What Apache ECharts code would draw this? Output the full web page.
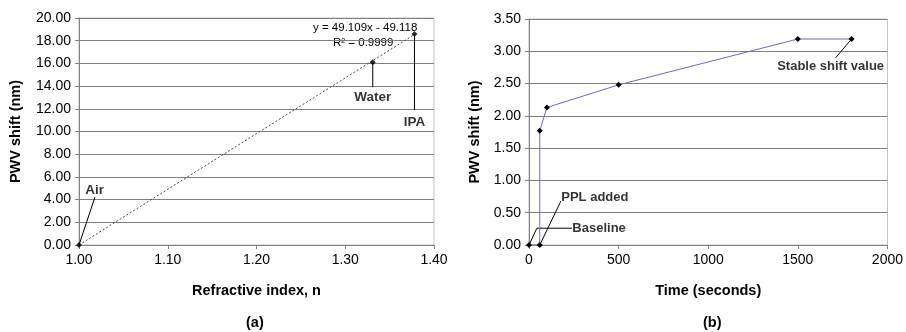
<!DOCTYPE html>
<html><head><meta charset="utf-8">
<script src="https://cdn.jsdelivr.net/npm/echarts@6/dist/echarts.min.js"></script>
<style>html,body{margin:0;padding:0;background:#fff}#c{width:906px;height:332px}</style>
</head><body><div id="c"></div>
<script>
// Panel (a): refractive index vs PWV shift
const riPoints = [[1.000, 0.00], [1.331, 16.10], [1.378, 18.59]];
const riTrend = [[1.000, 0.00], [1.378, 18.55]];
const riYTicks = {min: 0, max: 20, interval: 2};
const riXTicks = {min: 1.0, max: 1.4, interval: 0.1};
const riNotes = [
  {text: 'Air', line: [[1.000, 0.00], [1.018, 4.23]], label: [1.0175, 4.85]},
  {text: 'Water', line: [[1.331, 16.10], [1.331, 13.9]], label: [1.331, 13.0]},
  {text: 'IPA', line: [[1.378, 18.59], [1.378, 11.9]], label: [1.378, 10.8]}
];
const eqText = ['y = 49.109x - 49.118', 'R² = 0.9999'];

// Panel (b): time vs PWV shift
const timeSec = [0, 60, 60, 100, 500, 1500, 1800];
const shiftNm = [0.00, 0.00, 1.77, 2.13, 2.48, 3.19, 3.19];
const tYTicks = {min: 0, max: 3.5, interval: 0.5};
const tXTicks = {min: 0, max: 2000, interval: 500};
const tNotes = [
  {text: 'PPL added', line: [[60, 0.00], [178, 0.68]], label: [180, 0.74], align: 'left'},
  {text: 'Baseline', line: [[0, 0.00], [44, 0.26], [239, 0.26]], label: [242, 0.26], align: 'left'},
  {text: 'Stable shift value', line: [[1800, 3.19], [1711, 2.90]], label: [1683, 2.76], align: 'center'}
];

const FONT = 'Liberation Sans, Arial, sans-serif';
const chart = echarts.init(document.getElementById('c'), null, {renderer: 'canvas'});

function axisCommon(extra) {
  return Object.assign({
    axisLine: {show: true, lineStyle: {color: '#808080', width: 1}},
    axisTick: {show: true, inside: false, length: 4, lineStyle: {color: '#808080'}},
    splitLine: {show: false},
    nameTextStyle: {color: '#000', fontFamily: FONT, fontSize: 14.5, fontWeight: 'bold'},
    nameLocation: 'middle'
  }, extra);
}
const tickLabel = (fmt) => ({color: '#000', fontFamily: FONT, fontSize: 14, margin: 8, formatter: fmt});

const series = [];
// Panel (a)
series.push({type: 'line', xAxisIndex: 0, yAxisIndex: 0, data: riTrend, showSymbol: false, symbol: 'none',
  lineStyle: {color: '#404070', width: 1, type: [2, 2]}, silent: true, z: 2});
series.push({type: 'scatter', xAxisIndex: 0, yAxisIndex: 0, data: riPoints, symbol: 'diamond', symbolSize: 6,
  itemStyle: {color: '#000'}, z: 5});
riNotes.forEach(n => {
  series.push({type: 'line', xAxisIndex: 0, yAxisIndex: 0, data: n.line, symbol: 'none',
    lineStyle: {color: '#000', width: 1}, z: 3, silent: true});
  series.push({type: 'scatter', xAxisIndex: 0, yAxisIndex: 0, data: [n.label], symbolSize: 0,
    label: {show: true, position: 'inside', formatter: n.text, color: '#000', fontFamily: FONT, fontSize: 13.5, fontWeight: 'bold'}, z: 6, silent: true});
});
// Panel (b)
series.push({type: 'line', xAxisIndex: 1, yAxisIndex: 1, data: timeSec.map((t, i) => [t, shiftNm[i]]),
  symbol: 'diamond', symbolSize: 6, showAllSymbol: true,
  lineStyle: {color: '#6a6ac8', width: 1}, itemStyle: {color: '#000'}, z: 5});
tNotes.forEach(n => {
  series.push({type: 'line', xAxisIndex: 1, yAxisIndex: 1, data: n.line, symbol: 'none',
    lineStyle: {color: '#000', width: 1}, z: 3, silent: true});
  series.push({type: 'scatter', xAxisIndex: 1, yAxisIndex: 1, data: [n.label], symbolSize: 0,
    label: {show: true, position: n.align === 'left' ? 'right' : 'inside', distance: 0, formatter: n.text,
      color: '#000', fontFamily: FONT, fontSize: 13, fontWeight: 'bold'}, z: 6, silent: true});
});

chart.setOption({
  animation: false,
  backgroundColor: '#fff',
  grid: [
    {left: 79, right: 472, top: 18, bottom: 87, show: true, borderColor: '#c0c0c0', borderWidth: 1, backgroundColor: 'transparent'},
    {left: 529, right: 17, top: 19, bottom: 87, show: true, borderColor: '#c0c0c0', borderWidth: 1, backgroundColor: 'transparent'}
  ],
  xAxis: [
    axisCommon({type: 'value', gridIndex: 0, min: riXTicks.min, max: riXTicks.max, interval: riXTicks.interval,
      name: 'Refractive index, n', nameGap: 38, axisLabel: tickLabel(v => v.toFixed(2))}),
    axisCommon({type: 'value', gridIndex: 1, min: tXTicks.min, max: tXTicks.max, interval: tXTicks.interval,
      name: 'Time (seconds)', nameGap: 38, axisLabel: tickLabel(v => String(v))})
  ],
  yAxis: [
    axisCommon({type: 'value', gridIndex: 0, min: riYTicks.min, max: riYTicks.max, interval: riYTicks.interval,
      name: 'PWV shift (nm)', nameGap: 56, axisLabel: tickLabel(v => v.toFixed(2)),
      splitLine: {show: true, lineStyle: {color: '#808080', width: 1}}}),
    axisCommon({type: 'value', gridIndex: 1, min: tYTicks.min, max: tYTicks.max, interval: tYTicks.interval,
      name: 'PWV shift (nm)', nameGap: 47, axisLabel: tickLabel(v => v.toFixed(2)),
      splitLine: {show: true, lineStyle: {color: '#808080', width: 1}}})
  ],
  graphic: [
    {type: 'text', left: 246, top: 315, style: {text: '(a)', font: 'bold 14.5px ' + FONT, fill: '#000'}},
    {type: 'text', left: 703, top: 315, style: {text: '(b)', font: 'bold 14.5px ' + FONT, fill: '#000'}},
    {type: 'text', left: 313, top: 22, style: {text: eqText[0], font: '11.5px ' + FONT, fill: '#000'}},
    {type: 'text', left: 333, top: 37, style: {text: eqText[1], font: '11.5px ' + FONT, fill: '#000'}}
  ],
  series: series
});
</script></body></html>
